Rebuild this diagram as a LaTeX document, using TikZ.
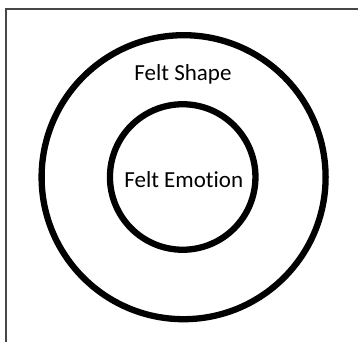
\documentclass[tikz,border=0pt]{standalone}
\usepackage{fontspec}
\setmainfont{Carlito}[Ligatures=NoCommon]
\begin{document}
\begin{tikzpicture}[x=1pt,y=1pt,
  frame/.style={draw=black!72,line width=1.5pt},
  ring/.style={circle,draw=black,line width=6.3pt,inner sep=0pt},
  lbl/.style={anchor=base,inner sep=0pt,font=\fontsize{23}{27}\selectfont}]
\useasboundingbox (0,0) rectangle (358,342);
\coordinate (fb) at (6,0);
\coordinate (fc) at (6,333);
\coordinate (fr) at (358,333);
\draw[frame] (fb) -- (fc) -- (fr);
\node[ring,minimum size=284pt] (outer) at (183.6,164.8) {};
\node[ring,minimum size=145.5pt] (inner) at (182.7,165) {};
\node[lbl] (shape) at (183,261) {Felt Shape};
\node[lbl] (emotion) at (183.8,154.7) {Felt Emotion};
\end{tikzpicture}
\end{document}
